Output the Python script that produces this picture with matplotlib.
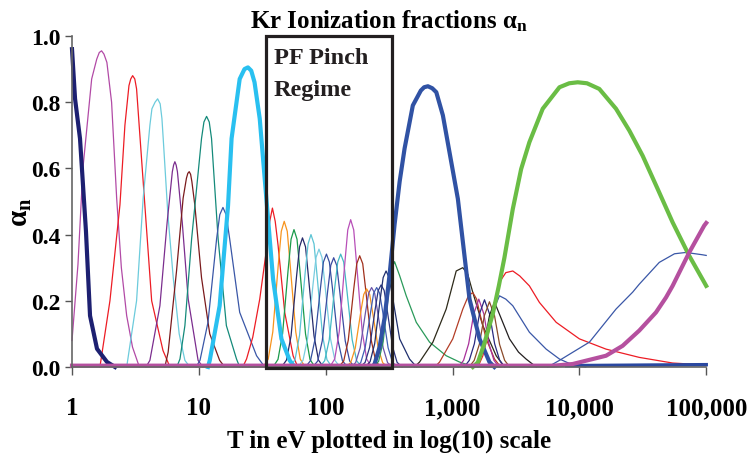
"""Kr ionization fractions alpha_n vs electron temperature (log scale).

Every curve is a list of (log10 T[eV], alpha) points read off the figure.
"""
import matplotlib
matplotlib.use("Agg")
import matplotlib.pyplot as plt
from matplotlib.patches import Rectangle
from matplotlib.ticker import NullLocator

plt.rcParams["font.family"] = ["Liberation Serif", "DejaVu Serif"]
plt.rcParams["font.weight"] = "bold"
plt.rcParams["mathtext.fontset"] = "custom"
plt.rcParams["mathtext.rm"] = "Liberation Serif:bold"

# ---- curves: (log10 T, alpha_n) ----
c01 = [(0.000, 0.96), (0.024, 0.81), (0.063, 0.69), (0.110, 0.41), (0.142, 0.155),
       (0.197, 0.055), (0.276, 0.015), (0.339, 0.0)]
c02 = [(0.000, 0.08), (0.047, 0.31), (0.086, 0.60), (0.155, 0.87), (0.195, 0.93),
       (0.215, 0.95), (0.233, 0.955), (0.252, 0.945), (0.275, 0.92), (0.312, 0.80),
       (0.352, 0.51), (0.389, 0.30), (0.431, 0.155), (0.477, 0.06), (0.531, 0.0)]
c03 = [(0.220, 0.0), (0.299, 0.20), (0.378, 0.49), (0.417, 0.73), (0.449, 0.85),
       (0.463, 0.87), (0.478, 0.88), (0.495, 0.87), (0.509, 0.84), (0.522, 0.77),
       (0.561, 0.56), (0.628, 0.20), (0.717, 0.05), (0.772, 0.0)]
c04 = [(0.431, 0.0), (0.509, 0.20), (0.561, 0.51), (0.614, 0.73), (0.630, 0.78),
       (0.655, 0.80), (0.675, 0.81), (0.695, 0.795), (0.709, 0.75), (0.719, 0.69),
       (0.756, 0.46), (0.798, 0.27), (0.845, 0.10), (0.890, 0.02), (0.929, 0.0)]
c05 = [(0.583, 0.0), (0.614, 0.02), (0.693, 0.185), (0.750, 0.437), (0.791, 0.59),
       (0.801, 0.61), (0.811, 0.62), (0.821, 0.61), (0.831, 0.59), (0.869, 0.437),
       (0.916, 0.205), (0.994, 0.02), (1.031, 0.0)]
c06 = [(0.732, 0.0), (0.758, 0.045), (0.824, 0.29), (0.876, 0.51), (0.902, 0.57),
       (0.913, 0.585), (0.924, 0.59), (0.935, 0.582), (0.945, 0.56), (0.968, 0.49),
       (1.021, 0.27), (1.086, 0.10), (1.164, 0.02), (1.204, 0.0)]
c07 = [(0.826, 0.0), (0.851, 0.024), (0.890, 0.125), (0.943, 0.387), (1.021, 0.69),
       (1.040, 0.74), (1.061, 0.757), (1.082, 0.74), (1.100, 0.69), (1.152, 0.387),
       (1.217, 0.125), (1.297, 0.024), (1.322, 0.0)]
c08 = [(0.978, 0.0), (1.009, 0.02), (1.072, 0.135), (1.140, 0.387), (1.165, 0.46),
       (1.190, 0.482), (1.215, 0.46), (1.243, 0.387), (1.322, 0.165), (1.455, 0.034),
       (1.519, 0.0)]
c09 = [(1.072, 0.0), (1.086, 0.02), (1.164, 0.185), (1.230, 0.487), (1.258, 0.69),
       (1.322, 0.87), (1.360, 0.90), (1.387, 0.905), (1.413, 0.895), (1.439, 0.86),
       (1.480, 0.75), (1.519, 0.57), (1.585, 0.266), (1.651, 0.085), (1.716, 0.02),
       (1.756, 0.0)]
c10 = [(1.346, 0.0), (1.376, 0.024), (1.425, 0.09), (1.480, 0.205), (1.535, 0.36),
       (1.559, 0.44), (1.580, 0.48), (1.602, 0.44), (1.625, 0.366), (1.677, 0.165),
       (1.743, 0.034), (1.780, 0.0)]
# PF pinch regime group
c11 = [(1.508, 0.0), (1.547, 0.024), (1.583, 0.106), (1.626, 0.308), (1.650, 0.41),
       (1.673, 0.44), (1.697, 0.41), (1.720, 0.308), (1.764, 0.106), (1.799, 0.024),
       (1.838, 0.0)]
c12 = [(1.585, 0.0), (1.624, 0.023), (1.660, 0.10), (1.703, 0.29), (1.727, 0.386),
       (1.750, 0.415), (1.774, 0.386), (1.797, 0.29), (1.841, 0.10), (1.876, 0.023),
       (1.915, 0.0)]
c13 = [(1.652, 0.0), (1.691, 0.021), (1.727, 0.094), (1.770, 0.273), (1.794, 0.363),
       (1.817, 0.39), (1.841, 0.363), (1.864, 0.273), (1.908, 0.094), (1.943, 0.021),
       (1.982, 0.0)]
c14 = [(1.719, 0.0), (1.758, 0.022), (1.794, 0.096), (1.837, 0.28), (1.861, 0.372),
       (1.884, 0.40), (1.908, 0.372), (1.931, 0.28), (1.975, 0.096), (2.010, 0.022),
       (2.049, 0.0)]
c15 = [(1.782, 0.0), (1.821, 0.02), (1.857, 0.085), (1.900, 0.249), (1.924, 0.331),
       (1.947, 0.356), (1.971, 0.331), (1.994, 0.249), (2.038, 0.085), (2.073, 0.02),
       (2.112, 0.0)]
c16 = [(1.841, 0.0), (1.880, 0.019), (1.915, 0.082), (1.959, 0.239), (1.982, 0.317),
       (2.006, 0.341), (2.029, 0.317), (2.053, 0.239), (2.096, 0.082), (2.132, 0.019),
       (2.171, 0.0)]
c17 = [(1.898, 0.0), (1.937, 0.018), (1.973, 0.079), (2.016, 0.231), (2.040, 0.307),
       (2.063, 0.33), (2.087, 0.307), (2.110, 0.231), (2.154, 0.079), (2.189, 0.018),
       (2.228, 0.0)]
c18 = [(1.953, 0.0), (1.992, 0.019), (2.028, 0.082), (2.071, 0.239), (2.095, 0.317),
       (2.118, 0.341), (2.142, 0.317), (2.165, 0.239), (2.209, 0.082), (2.244, 0.019),
       (2.283, 0.0)]
c19 = [(2.032, 0.0), (2.071, 0.024), (2.107, 0.107), (2.150, 0.31), (2.174, 0.414),
       (2.197, 0.445), (2.221, 0.414), (2.244, 0.31), (2.288, 0.107), (2.323, 0.024),
       (2.362, 0.0)]
c20 = [(2.103, 0.0), (2.142, 0.018), (2.178, 0.081), (2.221, 0.235), (2.245, 0.312),
       (2.268, 0.336), (2.292, 0.312), (2.315, 0.235), (2.359, 0.081), (2.394, 0.018),
       (2.433, 0.0)]
c21 = [(2.158, 0.0), (2.197, 0.013), (2.233, 0.057), (2.276, 0.165), (2.300, 0.219),
       (2.323, 0.236), (2.347, 0.219), (2.370, 0.165), (2.414, 0.057), (2.449, 0.013),
       (2.488, 0.0)]
c22 = [(2.197, 0.0), (2.236, 0.013), (2.272, 0.058), (2.315, 0.168), (2.339, 0.223),
       (2.362, 0.24), (2.386, 0.223), (2.409, 0.168), (2.453, 0.058), (2.488, 0.013),
       (2.527, 0.0)]
c23 = [(2.237, 0.0), (2.276, 0.013), (2.311, 0.058), (2.355, 0.168), (2.378, 0.223),
       (2.402, 0.24), (2.425, 0.223), (2.449, 0.168), (2.492, 0.058), (2.528, 0.013),
       (2.567, 0.0)]
c24 = [(2.272, 0.0), (2.311, 0.014), (2.347, 0.06), (2.390, 0.174), (2.414, 0.231),
       (2.437, 0.248), (2.461, 0.231), (2.484, 0.174), (2.528, 0.06), (2.563, 0.014),
       (2.602, 0.0)]
c25 = [(2.311, 0.0), (2.350, 0.016), (2.386, 0.07), (2.429, 0.203), (2.453, 0.27),
       (2.476, 0.29), (2.500, 0.27), (2.530, 0.205), (2.583, 0.085), (2.661, 0.024),
       (2.717, 0.0)]
c26 = [(2.378, 0.0), (2.417, 0.017), (2.453, 0.076), (2.496, 0.223), (2.520, 0.296),
       (2.543, 0.318), (2.583, 0.276), (2.635, 0.215), (2.714, 0.135), (2.819, 0.075),
       (2.950, 0.034), (3.055, 0.015), (3.173, 0.0)]
# beyond the pinch regime
c27 = [(2.370, 0.0), (2.386, 0.01), (2.425, 0.06), (2.465, 0.15), (2.504, 0.28),
       (2.543, 0.43), (2.583, 0.56), (2.622, 0.66), (2.687, 0.79), (2.750, 0.835),
       (2.776, 0.845), (2.806, 0.848), (2.840, 0.842), (2.872, 0.83), (2.924, 0.76),
       (3.042, 0.508), (3.134, 0.205), (3.213, 0.085), (3.291, 0.015), (3.330, 0.0)]
c28 = [(2.700, 0.0), (2.740, 0.015), (2.845, 0.075), (2.950, 0.175), (3.029, 0.29),
       (3.081, 0.30), (3.120, 0.28), (3.160, 0.225), (3.239, 0.125), (3.344, 0.034),
       (3.410, 0.0)]
c29 = [(2.860, 0.0), (2.898, 0.015), (3.002, 0.085), (3.081, 0.175), (3.125, 0.215),
       (3.160, 0.225), (3.190, 0.205), (3.213, 0.165), (3.265, 0.085), (3.331, 0.024),
       (3.380, 0.0)]
c30 = [(3.047, 0.0), (3.087, 0.02), (3.127, 0.07), (3.167, 0.16), (3.207, 0.205),
       (3.247, 0.16), (3.287, 0.07), (3.327, 0.02), (3.367, 0.0)]
c31 = [(3.092, 0.0), (3.132, 0.02), (3.172, 0.07), (3.212, 0.16), (3.252, 0.203),
       (3.292, 0.16), (3.332, 0.07), (3.372, 0.02), (3.412, 0.0)]
c32 = [(3.131, 0.0), (3.171, 0.02), (3.211, 0.068), (3.251, 0.155), (3.291, 0.197),
       (3.331, 0.155), (3.371, 0.068), (3.411, 0.02), (3.451, 0.0)]
c33 = [(3.171, 0.0), (3.211, 0.02), (3.251, 0.068), (3.291, 0.155), (3.331, 0.196),
       (3.380, 0.15), (3.449, 0.085), (3.520, 0.045), (3.580, 0.024), (3.660, 0.0)]
c34 = [(3.170, 0.0), (3.220, 0.03), (3.270, 0.09), (3.320, 0.17), (3.370, 0.215),
       (3.420, 0.205), (3.475, 0.185), (3.606, 0.105), (3.738, 0.054), (3.843, 0.024),
       (3.950, 0.006), (4.050, 0.0)]
c35 = [(3.200, 0.0), (3.239, 0.034), (3.300, 0.13), (3.370, 0.256), (3.420, 0.285),
       (3.475, 0.29), (3.530, 0.275), (3.606, 0.245), (3.685, 0.195), (3.817, 0.135),
       (4.000, 0.085), (4.210, 0.054), (4.472, 0.029), (4.735, 0.012), (5.000, 0.006)]
c36 = [(3.750, 0.0), (3.843, 0.02), (3.950, 0.045), (4.079, 0.075), (4.289, 0.175),
       (4.420, 0.226), (4.472, 0.25), (4.630, 0.316), (4.750, 0.342), (4.840, 0.346),
       (4.970, 0.339), (5.000, 0.337)]
c37 = [(3.160, 0.0), (3.200, 0.014), (3.250, 0.07), (3.317, 0.16), (3.365, 0.245),
       (3.409, 0.33), (3.475, 0.477), (3.541, 0.598), (3.606, 0.679), (3.711, 0.78),
       (3.843, 0.845), (3.920, 0.857), (3.987, 0.86), (4.060, 0.857), (4.157, 0.84),
       (4.289, 0.78), (4.394, 0.714), (4.499, 0.638), (4.617, 0.538), (4.735, 0.437),
       (4.866, 0.336), (4.984, 0.256), (5.000, 0.245)]
c38 = [(0.000, 0.004), (3.800, 0.004), (3.947, 0.009), (4.210, 0.034), (4.341, 0.064),
       (4.472, 0.11), (4.604, 0.165), (4.683, 0.21), (4.735, 0.245), (4.866, 0.346),
       (4.984, 0.427), (5.000, 0.435)]
c39 = [(3.900, 0.004), (5.000, 0.007)]

# (points, colour, linewidth)
curves = [
    (c02, "#b24aa6", 0.9), (c03, "#ed1c24", 0.9), (c04, "#6ccbdc", 0.9),
    (c05, "#7b2d8e", 0.9), (c06, "#7a1a1c", 0.9), (c07, "#148a7a", 0.9),
    (c08, "#3a57a7", 0.9), (c10, "#ed1c24", 0.9), (c11, "#f7941d", 0.9),
    (c12, "#1a9a4a", 0.9), (c13, "#262a6a", 0.9), (c14, "#5cc4d4", 0.9),
    (c15, "#79cde0", 0.9), (c16, "#3550a0", 0.9), (c17, "#3a4aa0", 0.9),
    (c18, "#43b9c4", 0.9), (c19, "#b84fb8", 0.9), (c20, "#a0301c", 0.9),
    (c21, "#f7941d", 0.9), (c22, "#6b55a8", 0.9), (c23, "#3f5fb5", 0.9),
    (c24, "#2b3580", 0.9), (c25, "#1f2f6e", 0.9), (c26, "#2a9a5a", 0.9),
    (c28, "#2d2a1a", 0.9), (c29, "#b33d26", 0.9), (c30, "#a8309a", 0.9),
    (c31, "#2a2a80", 0.9), (c32, "#8a4a2a", 0.9), (c33, "#231f20", 0.9),
    (c34, "#3a57a7", 0.9), (c35, "#ed1c24", 0.9), (c36, "#3a57a7", 0.9),
    (c01, "#1d2071", 3.0), (c09, "#29c0f0", 3.0), (c27, "#3052a4", 3.0),
    (c37, "#6abd45", 3.0), (c39, "#2a48a0", 2.5), (c38, "#b5509f", 3.0),
]

x_ticks = [1, 10, 100, 1000, 10000, 100000]
x_tick_labels = ["1", "10", "100", "1,000", "10,000", "100,000"]
y_ticks = [0.0, 0.2, 0.4, 0.6, 0.8, 1.0]
y_tick_labels = ["0.0", "0.2", "0.4", "0.6", "0.8", "1.0"]
pinch_lo, pinch_hi = 34.1, 335.0   # eV, PF pinch regime box

fig = plt.figure(figsize=(7.47, 4.56), dpi=100)
ax = fig.add_axes([0.0964, 0.193, 0.849, 0.726])

for pts, col, lw in curves:
    ax.plot([10 ** p[0] for p in pts], [p[1] for p in pts], color=col, lw=lw,
            solid_joinstyle="round", clip_on=False)

ax.add_patch(Rectangle((pinch_lo, -0.004), pinch_hi - pinch_lo, 1.004, fill=False,
                       ec="#231f20", lw=2.3, clip_on=False, zorder=5))
ax.text(39.0, 0.966, "PF Pinch\nRegime", ha="left", va="top", fontsize=17.5,
        fontweight="bold", linespacing=1.65, color="#231f20")

ax.set_xscale("log")
ax.set_xlim(1, 100000)
ax.set_ylim(0, 1.0)
ax.set_xticks(x_ticks)
ax.set_xticklabels(x_tick_labels)
ax.xaxis.set_minor_locator(NullLocator())
ax.set_yticks(y_ticks)
ax.set_yticklabels(y_tick_labels)
ax.tick_params(axis="x", direction="out", length=6, width=1, color="#555555",
               labelsize=18, pad=15)
ax.tick_params(axis="y", direction="out", length=5, width=1, color="#555555",
               labelsize=17, pad=3)
for s in ("top", "right"):
    ax.spines[s].set_visible(False)
for s in ("left", "bottom"):
    ax.spines[s].set_color("#666666")
    ax.spines[s].set_linewidth(1.2)

ax.set_xlabel("T in eV plotted in log(10) scale", fontsize=18, fontweight="bold",
              labelpad=7)
ax.set_ylabel(r"$\mathrm{\alpha_n}$", fontsize=21)
ax.yaxis.set_label_coords(-0.06, 0.47)
ax.set_title(r"Kr Ionization fractions $\mathrm{\alpha_n}$", fontsize=18,
             fontweight="bold", pad=6)

fig.savefig("out.png", dpi=100)
